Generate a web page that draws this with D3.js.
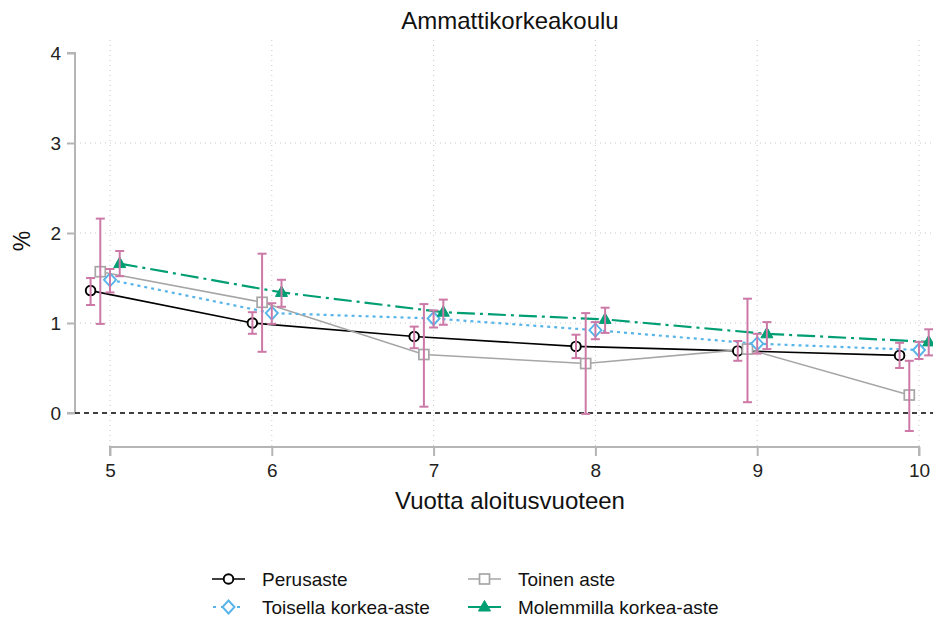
<!DOCTYPE html>
<html><head><meta charset="utf-8">
<script src="https://cdn.jsdelivr.net/npm/d3@7"></script>
<style>body{margin:0;background:#fff}svg{display:block;font-family:"Liberation Sans",Arial,sans-serif}</style>
</head><body>
<svg id="c" width="933" height="621"></svg>
<script>
const years = [5, 6, 7, 8, 9, 10];
const yTicks = [0, 1, 2, 3, 4];
const seriesNames = ["Perusaste", "Toinen aste", "Toisella korkea-aste", "Molemmilla korkea-aste"];
const offsets = [-0.12, -0.06, 0, 0.06];
const perusaste    = [1.36, 1.00, 0.85, 0.74, 0.69, 0.64];
const perusasteLo  = [1.20, 0.88, 0.72, 0.61, 0.58, 0.50];
const perusasteHi  = [1.50, 1.12, 0.96, 0.87, 0.80, 0.78];
const toinen       = [1.57, 1.23, 0.65, 0.55, 0.71, 0.20];
const toinenLo     = [0.99, 0.68, 0.07, -0.01, 0.12, -0.20];
const toinenHi     = [2.16, 1.77, 1.21, 1.11, 1.27, 0.58];
const toisella     = [1.48, 1.11, 1.05, 0.92, 0.77, 0.70];
const toisellaLo   = [1.34, 0.99, 0.95, 0.82, 0.66, 0.60];
const toisellaHi   = [1.60, 1.22, 1.14, 1.01, 0.88, 0.79];
const molemmilla   = [1.66, 1.34, 1.12, 1.04, 0.88, 0.79];
const molemmillaLo = [1.52, 1.18, 0.98, 0.89, 0.71, 0.64];
const molemmillaHi = [1.80, 1.48, 1.26, 1.17, 1.01, 0.93];

const values = [perusaste, toinen, toisella, molemmilla];
const los = [perusasteLo, toinenLo, toisellaLo, molemmillaLo];
const his = [perusasteHi, toinenHi, toisellaHi, molemmillaHi];

const styles = [
  {color:"#000000", dash:null, width:1.6, marker:"circle"},
  {color:"#a6a6a6", dash:null, width:1.6, marker:"square"},
  {color:"#56B4E9", dash:"3,4", width:2.2, marker:"diamond"},
  {color:"#009E73", dash:"18,5,3,5", width:2.2, marker:"triangle"}
];
const ciColor = "#CC79A7";

const svg = d3.select("#c");
const x = d3.scaleLinear().domain([5,10]).range([110,919]);
const y = d3.scaleLinear().domain([0,4]).range([413,53]);

// gridlines
const grid = svg.append("g");
grid.selectAll("line.v").data(years).join("line")
  .attr("x1", d=>x(d)).attr("x2", d=>x(d)).attr("y1", 40).attr("y2", 447)
  .attr("stroke", "#c8c8c8").attr("stroke-width", 1).attr("stroke-dasharray", "1,4");
grid.selectAll("line.h").data([1,2,3]).join("line")
  .attr("x1", 75).attr("x2", 933).attr("y1", d=>y(d)).attr("y2", d=>y(d))
  .attr("stroke", "#c8c8c8").attr("stroke-width", 1).attr("stroke-dasharray", "1,4");

// axes
const yAxis = d3.axisLeft(y).tickValues(yTicks).tickSize(8).tickPadding(6).tickFormat(d3.format("d"));
const yg = svg.append("g").attr("transform","translate(75,0)").call(yAxis);
const xAxis = d3.axisBottom(x).tickValues(years).tickSize(9).tickPadding(8).tickFormat(d3.format("d"));
const xg = svg.append("g").attr("transform","translate(0,447)").call(xAxis);
[yg,xg].forEach(g=>{
  g.select(".domain").attr("stroke","#b5b5b5").attr("stroke-width",2);
  g.selectAll(".tick line").attr("stroke","#b5b5b5").attr("stroke-width",2);
  g.selectAll(".tick text").attr("fill","#222").style("font-size","19px").style("font-family","'Liberation Sans',Arial,sans-serif");
});
yg.select(".domain").attr("d","M-8,53H0V413H-8");
xg.select(".domain").attr("d","M110,9V0H919V9");

// zero line
svg.append("line").attr("x1",75).attr("x2",933).attr("y1",y(0)).attr("y2",y(0))
  .attr("stroke","#000").attr("stroke-width",1.6).attr("stroke-dasharray","5,4");

// lines
const line = d3.line().x(d=>x(d[0])).y(d=>y(d[1]));
values.forEach((vals,i)=>{
  const pts = years.map((yr,j)=>[yr+offsets[i], vals[j]]);
  const p = svg.append("path").datum(pts).attr("d", line)
    .attr("fill","none").attr("stroke",styles[i].color).attr("stroke-width",styles[i].width);
  if (styles[i].dash) p.attr("stroke-dasharray", styles[i].dash);
});

function drawMarker(g, type, cx, cy, color){
  if (type==="circle") {
    g.append("circle").attr("cx",cx).attr("cy",cy).attr("r",4.8).attr("fill","#fff")
      .attr("stroke",color).attr("stroke-width",1.9);
  } else if (type==="square") {
    g.append("rect").attr("x",cx-5).attr("y",cy-5).attr("width",10).attr("height",10)
      .attr("fill","#fff").attr("stroke",color).attr("stroke-width",1.7);
  } else if (type==="diamond") {
    g.append("path").attr("d",`M${cx},${cy-6.5}L${cx+6},${cy}L${cx},${cy+6.5}L${cx-6},${cy}Z`)
      .attr("fill","#fff").attr("stroke",color).attr("stroke-width",1.9);
  } else {
    g.append("path").attr("d",`M${cx},${cy-6.5}L${cx+6},${cy+4}L${cx-6},${cy+4}Z`)
      .attr("fill",color).attr("stroke",color).attr("stroke-width",1);
  }
}
values.forEach((vals,i)=>{
  const g = svg.append("g");
  years.forEach((yr,j)=> drawMarker(g, styles[i].marker, x(yr+offsets[i]), y(vals[j]), styles[i].color));
});

// error bars (drawn through the hollow markers)
values.forEach((vals,i)=>{
  const g = svg.append("g").attr("stroke",ciColor).attr("stroke-width",2).attr("fill","none");
  years.forEach((yr,j)=>{
    const cx = x(yr+offsets[i]);
    g.append("line").attr("x1",cx).attr("x2",cx).attr("y1",y(los[i][j])).attr("y2",y(his[i][j]));
    g.append("line").attr("x1",cx-4.5).attr("x2",cx+4.5).attr("y1",y(los[i][j])).attr("y2",y(los[i][j]));
    g.append("line").attr("x1",cx-4.5).attr("x2",cx+4.5).attr("y1",y(his[i][j])).attr("y2",y(his[i][j]));
  });
});

// titles
svg.append("text").attr("x",510).attr("y",29).attr("text-anchor","middle")
  .style("font-size","24px").attr("fill","#111").text("Ammattikorkeakoulu");
svg.append("text").attr("x",510).attr("y",509).attr("text-anchor","middle")
  .style("font-size","24px").attr("fill","#111").text("Vuotta aloitusvuoteen");
svg.append("text").attr("transform","translate(30,241) rotate(-90)").attr("text-anchor","middle")
  .style("font-size","23px").attr("fill","#111").text("%");

// legend
const legPos = [[212,579],[468,579],[212,607],[468,607]];
legPos.forEach(([lx,ly],i)=>{
  const g = svg.append("g");
  const l = g.append("line").attr("x1",lx).attr("x2",lx+33).attr("y1",ly).attr("y2",ly)
    .attr("stroke",styles[i].color).attr("stroke-width",styles[i].width);
  if (i===2) l.attr("x1",lx+1).attr("stroke-dasharray","3,5");
  drawMarker(g, styles[i].marker, lx+16.5, ly, styles[i].color);
  g.append("text").attr("x",lx+50).attr("y",ly).attr("dy","0.35em")
    .style("font-size","19px").attr("fill","#111").text(seriesNames[i]);
});
</script>
</body></html>
